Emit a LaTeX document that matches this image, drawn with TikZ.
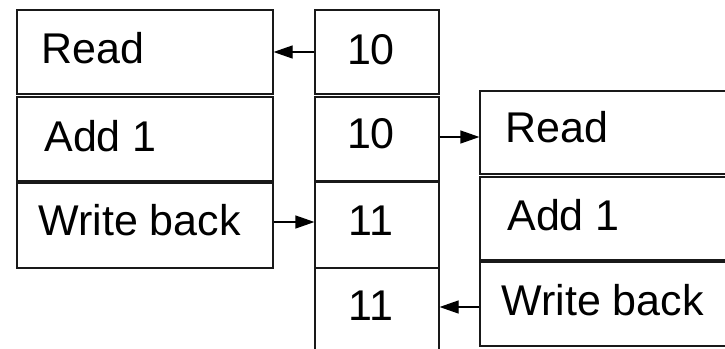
\documentclass[tikz,border=0pt]{standalone}
\usepackage{fontspec}
\setmainfont{Liberation Sans}
\usetikzlibrary{arrows.meta}
\tikzset{
  bx/.style n args={2}{draw=black!90, line width=0.6pt, inner sep=0pt,
     minimum width=#1*0.5pt, minimum height=#2*0.5pt},
  txt/.style={anchor=base west, inner sep=0pt, font=\fontsize{21.5}{25}\selectfont},
  num/.style={anchor=base, inner sep=0pt, font=\fontsize{21.5}{25}\selectfont},
  arr/.style={line width=0.6pt, -{Triangle[length=9.5pt,width=6.5pt]}}
}
\begin{document}
\begin{tikzpicture}[x=0.5pt,y=-0.5pt]
\clip (0,0) rectangle (725,349);
\fill[white] (0,0) rectangle (725,349);
% left column
\node[bx={256}{84}] (l1) at (145,52) {};
\node[bx={256}{84}] (l2) at (145,139) {};
\node[bx={256}{85}] (l3) at (145,225.5) {};
% middle column
\node[bx={124}{84}] (m1) at (377,52) {};
\node[bx={124}{84}] (m2) at (377,139) {};
\node[bx={124}{86}] (m3) at (377,225) {};
\node[bx={124}{100}] (m4) at (377,318) {};
% right column
\node[bx={260}{83}] (r1) at (610,132.5) {};
\node[bx={260}{83}] (r2) at (610,218.5) {};
\node[bx={260}{84}] (r3) at (610,304) {};
% texts
\node[txt] (tl1) at (41,63) {Read};
\node[txt] (tl2) at (44,151) {Add 1};
\node[txt] (tl3) at (38,235) {Write back};
\node[num] (tm1) at (371,64) {10};
\node[num] (tm2) at (371,148) {10};
\node[num] (tm3) at (371,235) {11};
\node[num] (tm4) at (371,320) {11};
\node[txt] (tr1) at (505,142) {Read};
\node[txt] (tr2) at (507,230) {Add 1};
\node[txt] (tr3) at (501,315) {Write back};
% arrows
\draw[arr] (m1.west) -- (l1.east);
\draw[arr] ([yshift=1pt]m2.east) -- ([yshift=1pt]m2.east -| r1.west);
\draw[arr] ([yshift=1.75pt]l3.east) -- ([yshift=1.75pt]l3.east -| m3.west);
\draw[arr] ([yshift=-1.5pt]r3.west) -- ([yshift=-1.5pt]r3.west -| m4.east);
\end{tikzpicture}
\end{document}
